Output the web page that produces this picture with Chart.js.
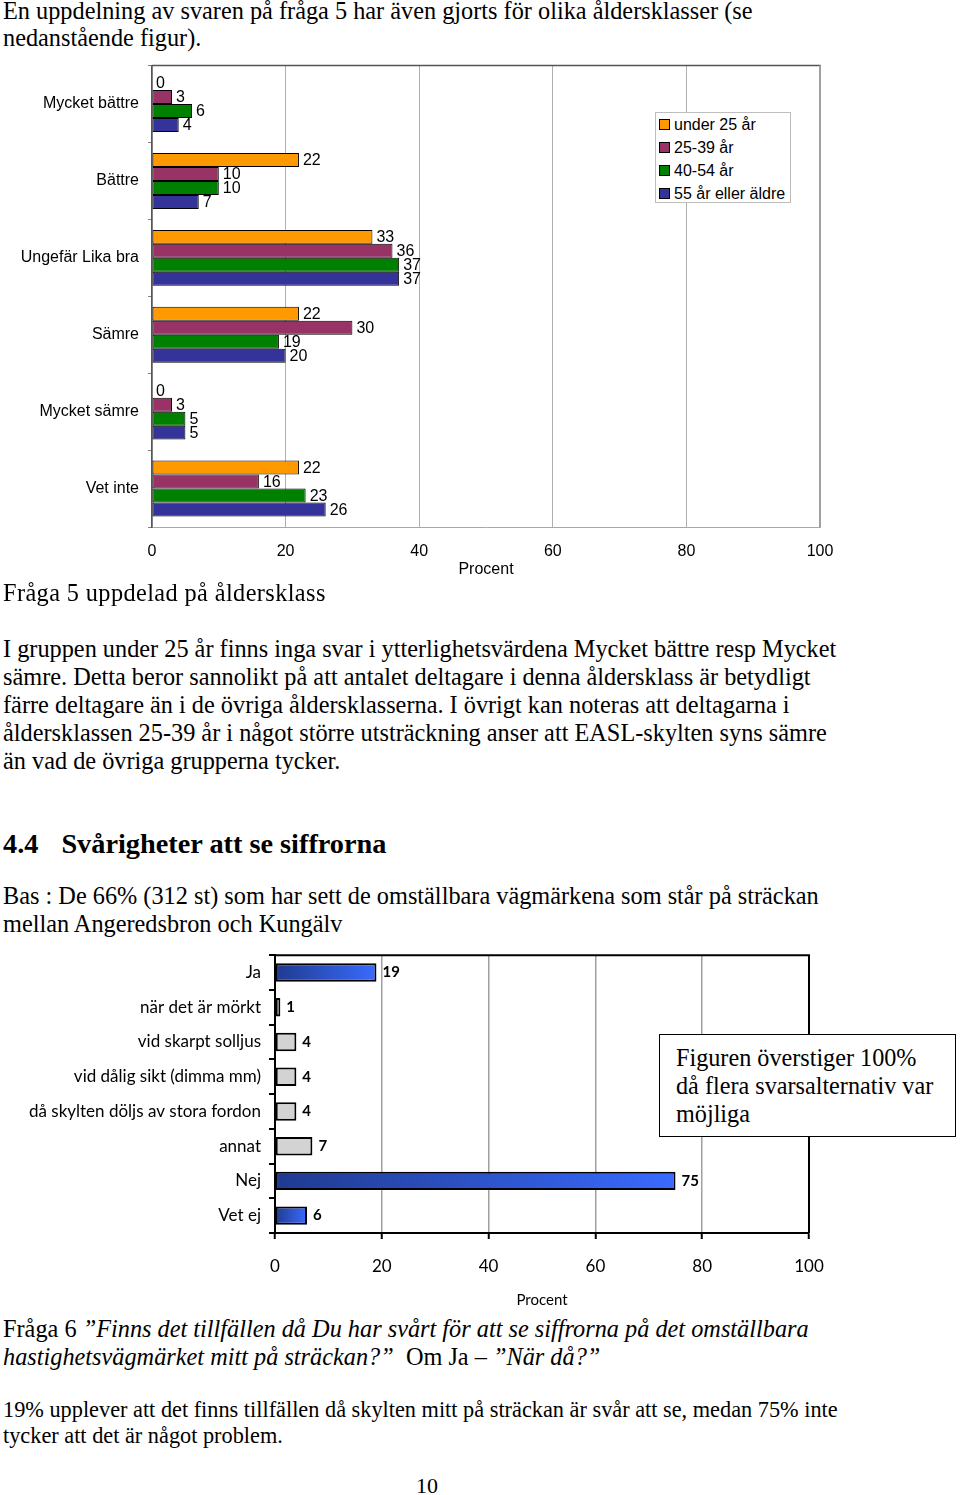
<!DOCTYPE html>
<html><head><meta charset="utf-8">
<script src="https://cdn.jsdelivr.net/npm/chart.js@4"></script>
<style>
body{margin:0;background:#fff;width:960px;height:1495px;position:relative;overflow:hidden;font-family:"Liberation Serif","Times New Roman",serif;color:#000}
.t{position:absolute;left:3px;font-size:24.3px;line-height:28px;white-space:nowrap}
canvas{position:absolute;left:0}
#legend1{position:absolute;left:655px;top:112px;width:136px;height:91px;box-sizing:border-box;border:1px solid #bdbdbd;background:#fff;font-family:"Liberation Sans",Arial,sans-serif;font-size:16px;padding-top:0px}
#legend1 div{height:23px;line-height:23px;white-space:nowrap;padding-left:3px}
#legend1 span.sw{display:inline-block;width:9px;height:9px;border:1px solid #000;margin-right:4px;vertical-align:0px}
#note{position:absolute;left:659px;top:1034px;width:297px;height:103px;box-sizing:border-box;border:1.5px solid #000;background:#fff;font-size:24.2px;line-height:28px;padding:9px 0 0 16px;white-space:nowrap}
</style></head>
<body>
<div class="t" style="top:-3px;line-height:27px">En uppdelning av svaren på fråga 5 har även gjorts för olika åldersklasser (se<br>nedanstående figur).</div>
<canvas id="c1" width="860" height="538" style="top:47px"></canvas>
<div id="legend1"></div>
<div class="t" style="top:579px;letter-spacing:0.4px">Fråga 5 uppdelad på åldersklass</div>
<div class="t" style="top:635px">I gruppen under 25 år finns inga svar i ytterlighetsvärdena Mycket bättre resp Mycket<br>sämre. Detta beror sannolikt på att antalet deltagare i denna åldersklass är betydligt<br>färre deltagare än i de övriga åldersklasserna. I övrigt kan noteras att deltagarna i<br>åldersklassen 25-39 år i något större utsträckning anser att EASL-skylten syns sämre<br>än vad de övriga grupperna tycker.</div>
<div class="t" style="top:827px;font-size:28.3px;line-height:34px;font-weight:bold">4.4<span style="display:inline-block;width:23px"></span>Svårigheter att se siffrorna</div>
<div class="t" style="top:882px">Bas : De 66% (312 st) som har sett de omställbara vägmärkena som står på sträckan<br>mellan Angeredsbron och Kungälv</div>
<canvas id="c2" width="860" height="378" style="top:937px"></canvas>
<div id="note">Figuren överstiger 100%<br>då flera svarsalternativ var<br>möjliga</div>
<div class="t" style="top:1315px">Fråga 6 <i>”Finns det tillfällen då Du har svårt för att se siffrorna på det omställbara<br>hastighetsvägmärket mitt på sträckan?”</i>&nbsp; Om Ja – <i>”När då?”</i></div>
<div class="t" style="top:1397px;line-height:26px;font-size:22.3px">19% upplever att det finns tillfällen då skylten mitt på sträckan är svår att se, medan 75% inte<br>tycker att det är något problem.</div>
<div class="t" style="top:1472px;left:416px;font-size:22px">10</div>
<script>
// ---- Chart 1 data ----
const categories1 = ["Mycket bättre","Bättre","Ungefär Lika bra","Sämre","Mycket sämre","Vet inte"];
const seriesNames1 = ["under 25 år","25-39 år","40-54 år","55 år eller äldre"];
const under25 = [0,22,33,22,0,22];
const age25to39 = [3,10,36,30,3,16];
const age40to54 = [6,10,37,19,5,23];
const age55plus = [4,7,37,20,5,26];
const seriesColors1 = ["#FF9900","#993366","#008000","#333399"];
const xTicks1 = [0,20,40,60,80,100];

// ---- Chart 2 data ----
const categories2 = ["Ja","när det är mörkt","vid skarpt solljus","vid dålig sikt (dimma mm)","då skylten döljs av stora fordon","annat","Nej","Vet ej"];
const values2 = [19,1,4,4,4,7,75,6];
const mainAnswers2 = ["Ja","Nej","Vet ej"];
const xTicks2 = [0,20,40,60,80,100];

const valueLabels = {
  id:'valueLabels',
  afterDatasetsDraw(chart, args, opts){
    const ctx = chart.ctx;
    ctx.save();
    ctx.font = opts.font;
    ctx.fillStyle = '#000';
    ctx.textAlign = 'left';
    ctx.textBaseline = 'middle';
    chart.data.datasets.forEach((ds, di) => {
      const meta = chart.getDatasetMeta(di);
      meta.data.forEach((el, i) => {
        const v = ds.data[i];
        ctx.fillText(String(v), el.x + opts.offset, el.y + (opts.dy||0));
      });
    });
    ctx.restore();
  }
};
const frame = {
  id:'frame',
  afterDraw(chart, args, opts){
    const a = chart.chartArea, ctx = chart.ctx;
    ctx.save();
    ctx.lineWidth = opts.topWidth;
    ctx.strokeStyle = opts.topColor;
    ctx.beginPath(); ctx.moveTo(a.left, a.top); ctx.lineTo(a.right+opts.topWidth/2, a.top); ctx.stroke();
    ctx.lineWidth = opts.rightWidth;
    ctx.strokeStyle = opts.rightColor;
    ctx.beginPath(); ctx.moveTo(a.right, a.top); ctx.lineTo(a.right, a.bottom); ctx.stroke();
    ctx.restore();
  }
};

// legend 1 (HTML)
const lg = document.getElementById('legend1');
seriesNames1.forEach((n,i)=>{
  const d = document.createElement('div');
  const s = document.createElement('span'); s.className='sw'; s.style.background = seriesColors1[i];
  d.appendChild(s); d.appendChild(document.createTextNode(n));
  lg.appendChild(d);
});

const sans = "'Liberation Sans', Arial, sans-serif";
new Chart(document.getElementById('c1'), {
  type:'bar',
  data:{
    labels: categories1,
    datasets: [under25, age25to39, age40to54, age55plus].map((d,i)=>({
      label: seriesNames1[i], data: d, backgroundColor: seriesColors1[i],
      borderColor:'#000', borderWidth:1, borderSkipped:false,
      categoryPercentage:0.727, barPercentage:1
    }))
  },
  options:{
    indexAxis:'y', responsive:false, animation:false, devicePixelRatio:1,
    layout:{padding:{top:10,right:40,left:0,bottom:0}},
    plugins:{legend:{display:false}, tooltip:{enabled:false},
      valueLabels:{font:"16px "+sans, offset:4, dy:1},
      frame:{topColor:'#555', topWidth:1.5, rightColor:'#a0a0a0', rightWidth:2}},
    scales:{
      x:{min:0,max:100,
        afterBuildTicks(s){ s.ticks = xTicks1.map(v=>({value:v})); },
        ticks:{color:'#000', font:{family:sans,size:16}, padding:15},
        grid:{color:'#b0b0b0', drawTicks:false},
        border:{display:true, color:'#a8a8a8'},
        title:{display:true, text:'Procent', color:'#000', font:{family:sans,size:16}, padding:{top:0,bottom:6}},
        afterFit(s){ s.height = 58; }
      },
      y:{
        ticks:{color:'#000', font:{family:sans,size:16}, padding:9},
        grid:{drawOnChartArea:false, drawTicks:true, tickLength:4, color:'#808080'},
        border:{display:true, color:'#555', width:1.5},
        afterFit(s){ s.width = 152; }
      }
    }
  },
  plugins:[valueLabels, frame]
});

const lato = "Lato, 'Open Sans', sans-serif";
new Chart(document.getElementById('c2'), {
  type:'bar',
  data:{
    labels: categories2,
    datasets:[{
      label:'Procent', data: values2,
      backgroundColor: (c)=>{
        if(!mainAnswers2.includes(categories2[c.dataIndex])) return '#d3d3d3';
        const ch = c.chart;
        if(!ch.chartArea || !ch.scales.x) return '#2c55d9';
        const xs = ch.scales.x;
        const x0 = xs.getPixelForValue(0), x1 = xs.getPixelForValue(c.raw);
        const g = ch.ctx.createLinearGradient(x0,0,x1,0);
        g.addColorStop(0,'#1f3a8f'); g.addColorStop(1,'#3a6bff');
        return g;
      },
      borderColor:'#000', borderWidth:2, borderSkipped:false,
      categoryPercentage:1, barPercentage:0.53
    }]
  },
  options:{
    indexAxis:'y', responsive:false, animation:false, devicePixelRatio:1,
    layout:{padding:{top:10,right:51,left:0,bottom:0}},
    plugins:{legend:{display:false}, tooltip:{enabled:false},
      valueLabels:{font:"bold 15px "+lato, offset:6, dy:0},
      frame:{topColor:'#000', topWidth:2, rightColor:'#000', rightWidth:2}},
    scales:{
      x:{min:0,max:100,
        afterBuildTicks(s){ s.ticks = xTicks2.map(v=>({value:v})); },
        ticks:{color:'#000', font:{family:lato,size:17}, padding:17},
        grid:{color:'#a0a0a0', lineWidth:1.5, drawTicks:true, tickLength:6, tickColor:'#000', tickWidth:2},
        border:{display:true, color:'#000', width:2},
        title:{display:true, text:'Procent', color:'#000', font:{family:lato,size:15}, padding:{top:0,bottom:6}},
        afterFit(s){ s.height = 82; }
      },
      y:{
        ticks:{color:'#000', font:{family:lato,size:17}, padding:8},
        grid:{drawOnChartArea:false, drawTicks:true, tickLength:6, color:'#000', lineWidth:2},
        border:{display:true, color:'#000', width:2},
        afterFit(s){ s.width = 275; }
      }
    }
  },
  plugins:[valueLabels, frame]
});
</script>
</body></html>
